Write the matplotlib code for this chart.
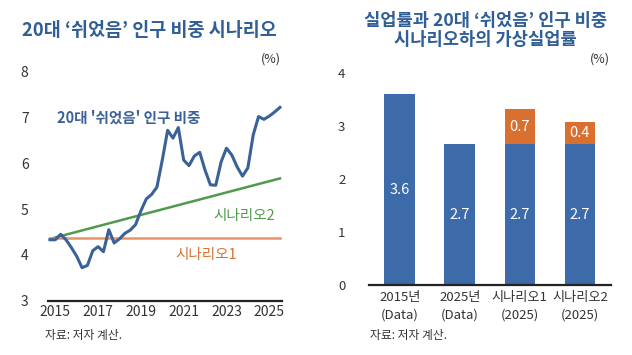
import numpy as np
import matplotlib
matplotlib.use("Agg")
import matplotlib.pyplot as plt

plt.rcParams['font.family'] = ['Noto Sans CJK KR', 'DejaVu Sans']

# 왼쪽: 20대 '쉬었음' 인구 비중 (분기, 2014Q4 ~ 2025Q3)
quarters = 2014.75 + 0.25 * np.arange(44)
share = [4.33, 4.33, 4.45, 4.33, 4.16, 3.97, 3.72, 3.77, 4.09, 4.18,
         4.07, 4.55, 4.26, 4.35, 4.47, 4.54, 4.66, 4.96, 5.22, 5.32,
         5.48, 6.07, 6.72, 6.55, 6.78, 6.07, 5.95, 6.16, 6.24, 5.85,
         5.53, 5.52, 6.03, 6.33, 6.18, 5.92, 5.72, 5.90, 6.62, 7.02,
         6.96, 7.03, 7.12, 7.22]
scenario1 = [4.36, 4.36]
scenario2 = [4.35, 5.67]
scen_x = [quarters[0], quarters[-1]]
year_ticks = [2015, 2017, 2019, 2021, 2023, 2025]

# 오른쪽: 실업률
bar_labels = ['2015년\n(Data)', '2025년\n(Data)', '시나리오1\n(2025)', '시나리오2\n(2025)']
base_rate = [3.6, 2.66, 2.66, 2.66]
extra_rate = [0, 0, 0.67, 0.42]
base_text = ['3.6', '2.7', '2.7', '2.7']
extra_text = ['', '', '0.7', '0.4']

title_c = '#2f5f96'
blue = '#3d6aa8'
line_blue = '#3b6199'
green = '#4f9a4c'
orange_line = '#e8946b'
orange = '#d9702f'
txt = '#333333'

fig = plt.figure(figsize=(6.32, 3.55), dpi=100)

# ---- left chart
ax1 = fig.add_axes([0.076, 0.153, 0.370, 0.645])
ax1.plot(quarters, share, color=line_blue, lw=2.2, zorder=3)
ax1.plot(scen_x, scenario2, color=green, lw=1.8, zorder=2)
ax1.plot(scen_x, scenario1, color=orange_line, lw=1.8, zorder=2)
ax1.set_ylim(3, 8)
ax1.set_xlim(2014.66, 2025.59)
ax1.set_xticks(year_ticks)
ax1.set_xticklabels([str(y) for y in year_ticks])
ax1.set_yticks([3, 4, 5, 6, 7, 8])
for s in ['top', 'right', 'left']:
    ax1.spines[s].set_visible(False)
ax1.spines['bottom'].set_linewidth(1.6)
ax1.spines['bottom'].set_color('#222222')
ax1.tick_params(axis='both', length=0, labelsize=10, colors=txt)
ax1.tick_params(axis='y', pad=14)
ax1.tick_params(axis='x', pad=3)
ax1.text(2015.1, 7.0, "20대 '쉬었음' 인구 비중", color=line_blue, fontsize=10.5,
         fontweight='bold', va='center')
ax1.text(2022.4, 4.85, '시나리오2', color=green, fontsize=10.5, va='center')
ax1.text(2020.6, 4.0, '시나리오1', color=orange, fontsize=10.5, va='center')
fig.text(0.445, 0.835, '(%)', fontsize=9, color=txt, ha='right', va='center')
fig.text(0.236, 0.915, '20대 ‘쉬었음’ 인구 비중 시나리오', fontsize=13.3,
         fontweight='bold', color=title_c, ha='center', va='center')
fig.text(0.071, 0.055, '자료: 저자 계산.', fontsize=8.5, color=txt, va='center')

# ---- right chart
ax2 = fig.add_axes([0.584, 0.197, 0.383, 0.5965])
pos = np.arange(len(bar_labels))
ax2.bar(pos, base_rate, width=0.51, color=blue, zorder=2)
ax2.bar(pos, extra_rate, width=0.51, bottom=base_rate, color=orange, zorder=2)
for p, b, e, bt, et in zip(pos, base_rate, extra_rate, base_text, extra_text):
    ax2.text(p, b / 2, bt, color='white', fontsize=10.5, ha='center', va='center')
    if e > 0:
        ax2.text(p, b + e / 2, et, color='white', fontsize=10.5, ha='center',
                 va='center')
ax2.set_ylim(0, 4)
ax2.set_xlim(-0.51, 3.52)
ax2.set_yticks([0, 1, 2, 3, 4])
ax2.set_xticks(pos)
ax2.set_xticklabels(bar_labels, linespacing=1.5)
for s in ['top', 'right', 'left']:
    ax2.spines[s].set_visible(False)
ax2.spines['bottom'].set_linewidth(1.6)
ax2.spines['bottom'].set_color('#222222')
ax2.tick_params(axis='both', length=0, labelsize=9.5, colors=txt)
ax2.tick_params(axis='y', pad=17)
ax2.tick_params(axis='x', pad=4)
fig.text(0.965, 0.835, '(%)', fontsize=9, color=txt, ha='right', va='center')
fig.text(0.768, 0.915, '실업률과 20대 ‘쉬었음’ 인구 비중\n시나리오하의 가상실업률',
         fontsize=12.7, fontweight='bold', color=title_c, ha='center',
         va='center', linespacing=1.05)
fig.text(0.585, 0.055, '자료: 저자 계산.', fontsize=8.5, color=txt, va='center')

fig.savefig('out.png', dpi=100)
